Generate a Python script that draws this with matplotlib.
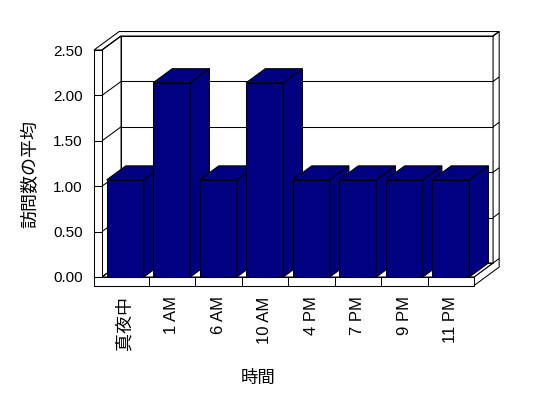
import matplotlib
matplotlib.use("Agg")
import matplotlib.pyplot as plt
from matplotlib.patches import Polygon

# latin glyphs from Liberation Sans, japanese falls through to Noto CJK
plt.rcParams['font.family'] = ['Liberation Sans', 'Noto Sans CJK JP', 'DejaVu Sans']

# data
hours = ['真夜中', '1 AM', '6 AM', '10 AM', '4 PM', '7 PM', '9 PM', '11 PM']
avg_visits = [1.0, 2.0, 1.0, 2.0, 1.0, 1.0, 1.0, 1.0]
y_ticks = [0.0, 0.5, 1.0, 1.5, 2.0, 2.5]

NAVY = '#000080'
LW = 0.75

# 3d look: depth vector in data units, wall thickness
DX, DY = 0.41, 0.154      # front -> back wall
BACK = 0.32               # back wall thickness (fraction of depth)
WALL_T = 0.172            # left wall thickness (x units)
FLOOR_T = 0.094           # floor thickness (y units)
BAR_W = 0.8
BAR_SCALE = 1.07          # the original draws bars a little taller than its axis

n = len(hours)
ymax = y_ticks[-1]


def P(x, y, z):
    return (x + z * DX, y + z * DY)


fig = plt.figure(figsize=(5.48, 3.98), dpi=100)
ax = fig.add_axes([102 / 548, 121 / 398, 372 / 548, 227 / 398])
ax.set_xlim(0, n)
ax.set_ylim(0, ymax)
ax.patch.set_visible(False)
for s in ax.spines.values():
    s.set_visible(False)


def face(pts, fc='white', z=1):
    ax.add_patch(Polygon([P(*p) for p in pts], closed=True, facecolor=fc,
                         edgecolor='black', lw=LW, clip_on=False, zorder=z,
                         joinstyle='miter'))


def seg(a, b, z=2):
    pa, pb = P(*a), P(*b)
    ax.plot([pa[0], pb[0]], [pa[1], pb[1]], color='black', lw=LW,
            clip_on=False, zorder=z, solid_capstyle='butt')


# back wall (inner face)
face([(0, 0, 1), (n, 0, 1), (n, ymax, 1), (0, ymax, 1)])
# top of left wall + back wall
face([(-WALL_T, ymax, 0), (0, ymax, 0), (0, ymax, 1), (n, ymax, 1),
      (n, ymax, 1 + BACK), (-WALL_T, ymax, 1 + BACK)])
# right side of floor + back wall
face([(n, -FLOOR_T, 0), (n, 0, 0), (n, 0, 1), (n, ymax, 1),
      (n, ymax, 1 + BACK), (n, -FLOOR_T, 1 + BACK)])
# inner face of left wall and top of floor
face([(0, 0, 0), (0, 0, 1), (0, ymax, 1), (0, ymax, 0)])
face([(0, 0, 0), (n, 0, 0), (n, 0, 1), (0, 0, 1)])
# front of left wall + floor
face([(-WALL_T, -FLOOR_T, 0), (n, -FLOOR_T, 0), (n, 0, 0), (0, 0, 0),
      (0, ymax, 0), (-WALL_T, ymax, 0)])

# grid lines
for v in y_ticks:
    seg((-WALL_T, v, 0), (0, v, 0))
    seg((0, v, 0), (0, v, 1))
    seg((0, v, 1), (n, v, 1))
    seg((n, v, 1), (n, v, 1 + BACK))
for k in range(1, n):
    seg((k, -FLOOR_T, 0), (k, 0, 0))

# bars
for i, v in enumerate(avg_visits):
    x0 = i + (1 - BAR_W) / 2
    x1 = x0 + BAR_W
    h = v * BAR_SCALE
    zb = 5 + i
    face([(x0, 0, 0), (x1, 0, 0), (x1, h, 0), (x0, h, 0)], NAVY, zb)
    face([(x1, 0, 0), (x1, 0, 1), (x1, h, 1), (x1, h, 0)], NAVY, zb)
    face([(x0, h, 0), (x1, h, 0), (x1, h, 1), (x0, h, 1)], NAVY, zb)

ax.set_yticks(y_ticks)
ax.set_yticklabels([f'{v:.2f}' for v in y_ticks], fontsize=11)
ax.set_xticks([i + 0.5 for i in range(n)])
ax.set_xticklabels(hours, rotation=90, fontsize=12, va='top')
ax.get_xticklabels()[0].set_fontsize(13)
ax.tick_params(axis='y', length=0, pad=14)
ax.tick_params(axis='x', length=0, pad=14)

ax.set_ylabel('訪問数の平均', fontsize=13)
ax.yaxis.set_label_coords(-0.167, 0.454)
ax.set_xlabel('時間', fontsize=12.5)
ax.xaxis.set_label_coords(0.419, -0.409)

fig.savefig('out.png', dpi=100)
